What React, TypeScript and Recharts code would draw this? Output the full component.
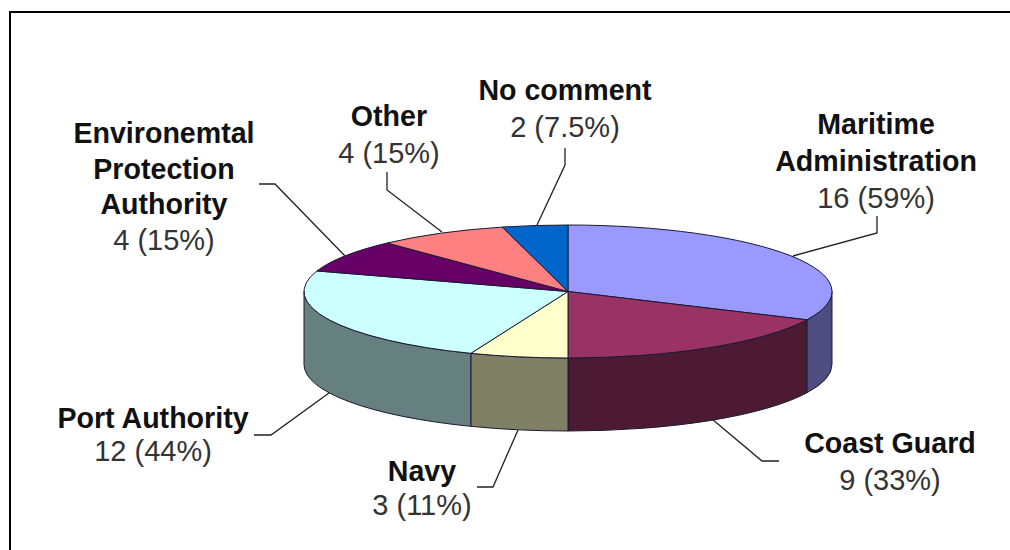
import { PieChart, Pie, Cell } from "recharts"

const categories = ["Maritime Administration", "Coast Guard", "Navy", "Port Authority", "Environemtal Protection Authority", "Other", "No comment"]
const respondents = [16, 9, 3, 12, 4, 4, 2]
const shares = ["59%", "33%", "11%", "44%", "15%", "15%", "7.5%"]
const topColors = ["#9999ff", "#993366", "#ffffcc", "#ccffff", "#660066", "#ff8080", "#0066cc"]
const wallColors = ["#4d4d80", "#4d1a33", "#808066", "#668080", "#330033", "#804040", "#003366"]

const tableData = categories.map((name, i) => ({ name, value: respondents[i], share: shares[i] }))

// the pie is tilted: recharts gives the angles, these squash them into an ellipse
const RX = 264
const RY = 66.5
const DEPTH = 73
const CX = 568
const CY = 291.5

const rim = (deg: number, drop = 0) => {
  const a = (deg * Math.PI) / 180
  return { x: CX + RX * Math.cos(a), y: CY - RY * Math.sin(a) + drop }
}

function TopSlice(props: any) {
  const { startAngle, endAngle, fill } = props
  const a = rim(startAngle)
  const b = rim(endAngle)
  const large = Math.abs(endAngle - startAngle) > 180 ? 1 : 0
  const d = `M${CX},${CY} L${a.x},${a.y} A${RX},${RY} 0 ${large} 1 ${b.x},${b.y} Z`
  return <path d={d} fill={fill} stroke="#1a1a33" strokeWidth={1} strokeLinejoin="round" />
}

// only the part of a slice on the near half of the rim has a visible wall
function WallSlice(props: any) {
  const { startAngle, endAngle, fill } = props
  const from = Math.min(startAngle, 0)
  const to = Math.max(endAngle, -180)
  if (from <= to) return null
  const a = rim(from)
  const b = rim(to)
  const d = `M${a.x},${a.y} A${RX},${RY} 0 0 1 ${b.x},${b.y} L${b.x},${b.y + DEPTH} A${RX},${RY} 0 0 0 ${a.x},${a.y + DEPTH} Z`
  return <path d={d} fill={fill} stroke="#1a1a33" strokeWidth={1} strokeLinejoin="round" />
}

// text placement of each label, then the leader line, same order as categories
const labelLines = [
  ["Maritime", "Administration"],
  ["Coast Guard"],
  ["Navy"],
  ["Port Authority"],
  ["Environemtal", "Protection", "Authority"],
  ["Other"],
  ["No comment"],
]
const labelAnchors = [
  [876, 134],
  [890, 453],
  [422, 481],
  [153, 428],
  [164, 143],
  [389, 126],
  [565, 100],
]
const rowGaps = [37, 37, 34, 33, 35.5, 37, 37]
const leaders = [
  "M877,216 L877,233 L793,256",
  "M779,461 L762,461 L712,419",
  "M477,487 L493,487 L518,430",
  "M254,435 L271,435 L329,393",
  "M259,184 L275,184 L345,256",
  "M387,172 L387,190 L442,232",
  "M565,148 L565,165 L537,225",
]

function SliceLabel(props: any) {
  const { index, payload } = props
  const [x, y] = labelAnchors[index]
  const rows = labelLines[index]
  const gap = rowGaps[index]
  return (
    <g>
      <path d={leaders[index]} fill="none" stroke="#222" strokeWidth={1.3} />
      <text x={x} y={y} textAnchor="middle" fontFamily="Liberation Sans" fill="#111">
        {rows.map((t, i) => (
          <tspan key={t} x={x} dy={i === 0 ? 0 : gap} fontWeight="bold" fontSize={28.6}>{t}</tspan>
        ))}
        <tspan x={x} dy={gap} fontSize={29} fill="#333">{`${payload.value} (${payload.share})`}</tspan>
      </text>
    </g>
  )
}

export default function App() {
  return (
    <div style={{ position: "fixed", left: 0, top: 0, width: 1010, height: 550, background: "#fff", overflow: "hidden" }}>
      <div style={{ position: "absolute", left: 9, top: 11, width: 1020, height: 560, border: "2px solid #000", boxSizing: "border-box" }} />
      <div style={{ position: "absolute", left: 0, top: 0 }}>
        <PieChart width={1010} height={550} margin={{ top: 0, right: 0, bottom: 0, left: 0 }}>
          <Pie data={tableData} dataKey="value" cx={CX} cy={CY} outerRadius={RX} startAngle={90} endAngle={-270} isAnimationActive={false} shape={WallSlice} legendType="none">
            {wallColors.map((c, i) => <Cell key={i} fill={c} />)}
          </Pie>
          <Pie data={tableData} dataKey="value" cx={CX} cy={CY} outerRadius={RX} startAngle={90} endAngle={-270} isAnimationActive={false} shape={TopSlice} label={SliceLabel} labelLine={false}>
            {topColors.map((c, i) => <Cell key={i} fill={c} />)}
          </Pie>
        </PieChart>
      </div>
    </div>
  )
}
